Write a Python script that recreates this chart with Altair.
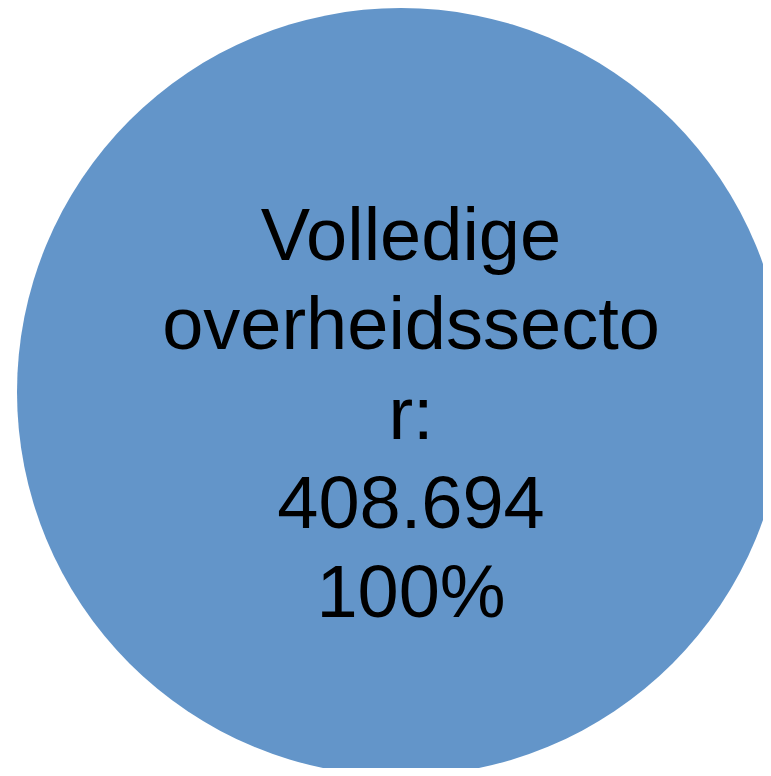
import altair as alt
import pandas as pd

categories = ["Volledige overheidssector"]
values = [408694]
value_labels = ["408.694"]
percent_labels = ["100%"]
# label as wrapped in the reference
wrapped_labels = ["Volledige\noverheidssecto\nr:\n408.694\n100%"]

df = pd.DataFrame({
    "category": categories,
    "value": values,
    "label": wrapped_labels,
})

W, H = 755, 760

base = alt.Chart(df)

arc = base.mark_arc(radius=384, color="#6395C9", stroke=None).encode(
    theta=alt.Theta("value:Q", stack=True),
    x=alt.value(393),
    y=alt.value(384),
)

text = base.mark_text(
    font="Liberation Sans",
    fontSize=74,
    lineHeight=89.25,
    align="center",
    baseline="alphabetic",
    color="black",
    lineBreak="\n",
).encode(
    text="label:N",
    x=alt.value(403),
    y=alt.value(252),
)

chart = alt.layer(arc, text).properties(
    width=W,
    height=H,
    padding=0,
    autosize=alt.AutoSizeParams(type="none"),
).configure_view(stroke=None)

chart.save("out.html", embed_options={"renderer": "svg", "actions": False})
